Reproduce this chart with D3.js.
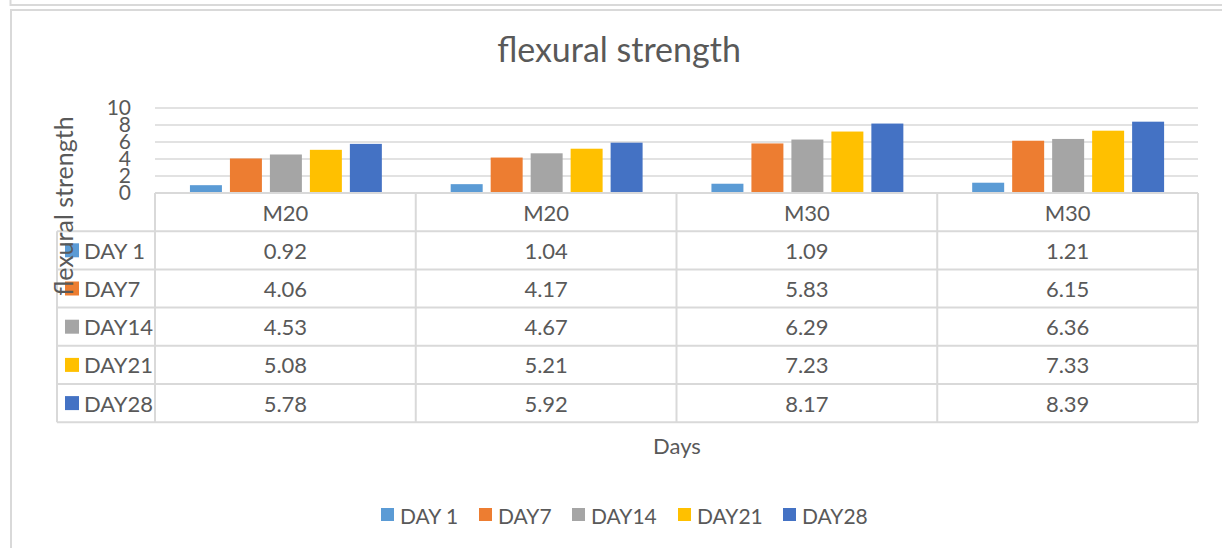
<!DOCTYPE html>
<html>
<head>
<meta charset="utf-8">
<script src="https://cdn.jsdelivr.net/npm/d3@7"></script>
<style>
  body { margin: 0; background: #fff; }
  svg text { font-family: Lato, "Open Sans", sans-serif; fill: #595959; }
</style>
</head>
<body>
<div id="container"></div>
<script>
var W = 1222, H = 548;

var categories = ['M20', 'M20 ', 'M30', 'M30 '];
var catLabels = ['M20', 'M20', 'M30', 'M30'];
var series = ['DAY 1', 'DAY7', 'DAY14', 'DAY21', 'DAY28'];
var day1 = [0.92, 1.04, 1.09, 1.21];
var day7 = [4.06, 4.17, 5.83, 6.15];
var day14 = [4.53, 4.67, 6.29, 6.36];
var day21 = [5.08, 5.21, 7.23, 7.33];
var day28 = [5.78, 5.92, 8.17, 8.39];
var yTicks = [0, 2, 4, 6, 8, 10];
var colors = ['#5B9BD5', '#ED7D31', '#A5A5A5', '#FFC000', '#4472C4'];

var values = [day1, day7, day14, day21, day28];
var fmt = d3.format('.2f');

var svg = d3.select('#container').append('svg')
    .attr('width', W)
    .attr('height', H);

/* outer frames */
svg.append('path')
    .attr('d', 'M10.5,0 V5 H' + W)
    .attr('fill', 'none').attr('stroke', '#D9D9D9').attr('stroke-width', 2);
svg.append('path')
    .attr('d', 'M11,' + H + ' V10 H' + W)
    .attr('fill', 'none').attr('stroke', '#D9D9D9').attr('stroke-width', 2);

var plot = {left: 155, right: 1198, top: 108, bottom: 193};
var tableLeft = 57, rowH = 38.2;

var x0 = d3.scaleBand()
    .domain(categories)
    .range([plot.left, plot.right]);

var x1 = d3.scaleBand()
    .domain(series)
    .range([x0.bandwidth() * 0.134, x0.bandwidth() * 0.87])
    .paddingInner(0.2);

var y = d3.scaleLinear()
    .domain([0, 10])
    .range([plot.bottom, plot.top]);

/* title */
svg.append('text')
    .attr('x', 619).attr('y', 53)
    .attr('text-anchor', 'middle')
    .attr('dominant-baseline', 'middle')
    .style('font-size', '34px')
    .text('flexural strength');

/* gridlines */
svg.append('g').selectAll('line').data(yTicks.slice(1))
    .enter().append('line')
    .attr('x1', plot.left).attr('x2', plot.right)
    .attr('y1', d => y(d)).attr('y2', d => y(d))
    .attr('stroke', '#D9D9D9').attr('stroke-width', 1.5);

/* y axis labels */
var yAxis = d3.axisLeft(y).tickValues(yTicks).tickSize(0).tickPadding(0);
var yg = svg.append('g')
    .attr('transform', 'translate(' + 131 + ',0)')
    .call(yAxis);
yg.select('.domain').remove();
yg.selectAll('text')
    .style('font-size', '21px')
    .style('font-family', 'Lato, sans-serif')
    .attr('fill', '#595959');

/* bars */
svg.append('g').selectAll('g').data(series)
    .enter().append('g')
    .attr('fill', (d, i) => colors[i])
    .selectAll('rect')
    .data((s, i) => categories.map((c, j) => ({c: c, s: s, v: values[i][j]})))
    .enter().append('rect')
    .attr('x', d => x0(d.c) + x1(d.s))
    .attr('y', d => y(d.v))
    .attr('width', x1.bandwidth())
    .attr('height', d => y(0) - y(d.v));

/* axis line */
svg.append('line')
    .attr('x1', plot.left).attr('x2', plot.right)
    .attr('y1', plot.bottom).attr('y2', plot.bottom)
    .attr('stroke', '#D9D9D9').attr('stroke-width', 2);

/* data table */
var tbl = svg.append('g').attr('stroke', '#D9D9D9').attr('stroke-width', 2);
var tableBottom = plot.bottom + rowH * 6;
// horizontal rules
for (var r = 1; r <= 6; r++) {
    tbl.append('line')
        .attr('x1', tableLeft).attr('x2', plot.right)
        .attr('y1', plot.bottom + r * rowH).attr('y2', plot.bottom + r * rowH);
}
// vertical rules
tbl.append('line')
    .attr('x1', tableLeft).attr('x2', tableLeft)
    .attr('y1', plot.bottom + rowH).attr('y2', tableBottom);
tbl.selectAll('.v').data(categories.concat(['end']))
    .enter().append('line')
    .attr('x1', (d, i) => plot.left + i * x0.step())
    .attr('x2', (d, i) => plot.left + i * x0.step())
    .attr('y1', plot.bottom).attr('y2', tableBottom);

// header labels
svg.append('g').selectAll('text').data(categories)
    .enter().append('text')
    .attr('x', d => x0(d) + x0.bandwidth() / 2)
    .attr('y', plot.bottom + rowH / 2)
    .attr('text-anchor', 'middle')
    .attr('dominant-baseline', 'central')
    .style('font-size', '22px')
    .text((d, i) => catLabels[i]);

// series rows
var rows = svg.append('g').selectAll('g').data(series)
    .enter().append('g')
    .attr('transform', (d, i) => 'translate(0,' + (plot.bottom + (i + 1) * rowH + rowH / 2) + ')');

rows.append('rect')
    .attr('x', 65).attr('y', -7)
    .attr('width', 14).attr('height', 14)
    .attr('fill', (d, i) => colors[i]);

rows.append('text')
    .attr('x', 84).attr('y', 0)
    .attr('dominant-baseline', 'central')
    .style('font-size', '22px')
    .text(d => d);

rows.selectAll('.val')
    .data((s, i) => values[i].map((v, j) => ({c: categories[j], v: v})))
    .enter().append('text')
    .attr('x', d => x0(d.c) + x0.bandwidth() / 2)
    .attr('y', 0)
    .attr('text-anchor', 'middle')
    .attr('dominant-baseline', 'central')
    .style('font-size', '22px')
    .text(d => fmt(d.v));

/* axis titles */
svg.append('text')
    .attr('transform', 'translate(63,206) rotate(-90)')
    .attr('text-anchor', 'middle')
    .attr('dominant-baseline', 'central')
    .style('font-size', '25px')
    .text('flexural strength');

svg.append('text')
    .attr('x', 677).attr('y', 445)
    .attr('text-anchor', 'middle')
    .attr('dominant-baseline', 'central')
    .style('font-size', '22px')
    .text('Days');

/* legend */
var legX = [381, 479, 572, 678, 783];
var leg = svg.append('g').selectAll('g').data(series)
    .enter().append('g')
    .attr('transform', (d, i) => 'translate(' + legX[i] + ',515)');
leg.append('rect')
    .attr('x', 0).attr('y', -7)
    .attr('width', 13).attr('height', 13)
    .attr('fill', (d, i) => colors[i]);
leg.append('text')
    .attr('x', 19).attr('y', 0)
    .attr('dominant-baseline', 'central')
    .style('font-size', '21px')
    .text(d => d);
</script>
</body>
</html>
